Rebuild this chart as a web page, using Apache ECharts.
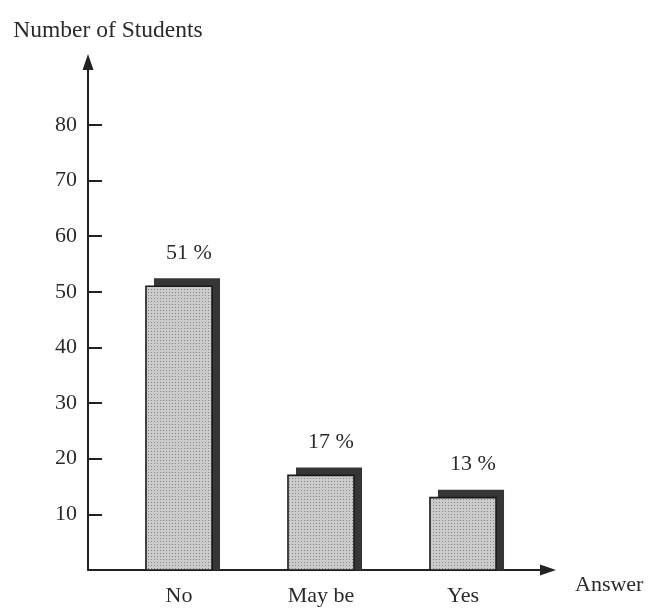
<!DOCTYPE html>
<html>
<head>
<meta charset="utf-8">
<script src="https://cdn.jsdelivr.net/npm/echarts@6/dist/echarts.min.js"></script>
<style>
  html, body { margin: 0; padding: 0; background: #ffffff; }
  #chart { width: 651px; height: 611px; }
</style>
</head>
<body>
<div id="chart"></div>
<script>
// Survey answers and the share of students giving each one
const categories = ['No', 'May be', 'Yes'];
const studentShares = [51, 17, 13];
const yTickValues = [10, 20, 30, 40, 50, 60, 70, 80];
const yAxisTitle = 'Number of Students';
const xAxisTitle = 'Answer';

const FONT = '"Liberation Serif", "Times New Roman", serif';
const INK = '#222222';
const TEXT = '#2a2a2a';
const Y_MAX = 91.3;

// Small halftone tile used to fill the bar faces
function makeDotPattern() {
  const c = document.createElement('canvas');
  c.width = 3; c.height = 3;
  const g = c.getContext('2d');
  g.fillStyle = '#cbcbcb';
  g.fillRect(0, 0, 3, 3);
  g.fillStyle = '#868686';
  g.fillRect(1, 1, 1, 1);
  return c;
}
const dotFill = { image: makeDotPattern(), repeat: 'repeat' };

const chart = echarts.init(document.getElementById('chart'), null, { renderer: 'canvas' });

// Bars with a dark offset block behind them, giving a raised look
function renderBar(params, api) {
  const idx = api.value(0);
  const val = api.value(1);
  const top = api.coord([idx, val]);
  const base = api.coord([idx, 0]);
  const band = api.size([1, 0])[0];
  const w = band * 0.465;
  const x = top[0] - w / 2;
  const h = base[1] - top[1];
  const dx = 8, dy = 8;
  return {
    type: 'group',
    children: [
      {
        type: 'rect',
        shape: { x: x + dx, y: top[1] - dy, width: w, height: h + dy },
        style: { fill: '#363636' }
      },
      {
        type: 'rect',
        shape: { x: x, y: top[1], width: w, height: h },
        style: { fill: dotFill, stroke: '#1a1a1a', lineWidth: 1.6 }
      },
      {
        type: 'text',
        style: {
          text: val + ' %',
          x: top[0] + 10,
          y: top[1] - 33,
          align: 'center',
          verticalAlign: 'middle',
          font: '22px ' + FONT,
          fill: TEXT
        }
      }
    ]
  };
}

const option = {
  backgroundColor: '#ffffff',
  animation: false,
  grid: [
    { left: 88, right: 103, top: 62, bottom: 41 },
    { left: 108, width: 426, top: 62, bottom: 41 }
  ],
  xAxis: [
    {
      gridIndex: 0,
      type: 'value',
      min: 0,
      max: 1,
      name: xAxisTitle,
      nameLocation: 'end',
      nameGap: 27,
      nameTextStyle: {
        fontFamily: FONT, fontSize: 22, color: TEXT,
        align: 'left', verticalAlign: 'top', padding: [4, 0, 0, 0]
      },
      axisLine: {
        show: true,
        symbol: ['none', 'triangle'],
        symbolSize: [11, 16],
        lineStyle: { color: INK, width: 2 }
      },
      axisTick: { show: false },
      axisLabel: { show: false },
      splitLine: { show: false }
    },
    {
      gridIndex: 1,
      type: 'category',
      data: categories,
      axisLine: { show: false },
      axisTick: { show: false },
      axisLabel: {
        margin: 15,
        fontFamily: FONT, fontSize: 22, color: TEXT
      },
      splitLine: { show: false }
    }
  ],
  yAxis: [
    {
      gridIndex: 0,
      type: 'value',
      min: 0,
      max: Y_MAX,
      name: yAxisTitle,
      nameLocation: 'end',
      nameGap: 31,
      nameTextStyle: {
        fontFamily: FONT, fontSize: 23.5, color: TEXT,
        align: 'center', verticalAlign: 'middle', padding: [0, 0, 0, 40]
      },
      axisLine: {
        show: true,
        symbol: ['none', 'triangle'],
        symbolSize: [11, 16],
        lineStyle: { color: INK, width: 2 }
      },
      axisTick: {
        show: true,
        inside: true,
        length: 14,
        customValues: yTickValues,
        lineStyle: { color: INK, width: 2 }
      },
      axisLabel: {
        margin: 11,
        customValues: yTickValues,
        fontFamily: FONT, fontSize: 22, color: TEXT
      },
      splitLine: { show: false }
    },
    {
      gridIndex: 1,
      type: 'value',
      min: 0,
      max: Y_MAX,
      show: false
    }
  ],
  series: [
    {
      type: 'custom',
      xAxisIndex: 1,
      yAxisIndex: 1,
      renderItem: renderBar,
      data: categories.map((c, i) => [i, studentShares[i]]),
      z: 3
    }
  ]
};

chart.setOption(option);
</script>
</body>
</html>
